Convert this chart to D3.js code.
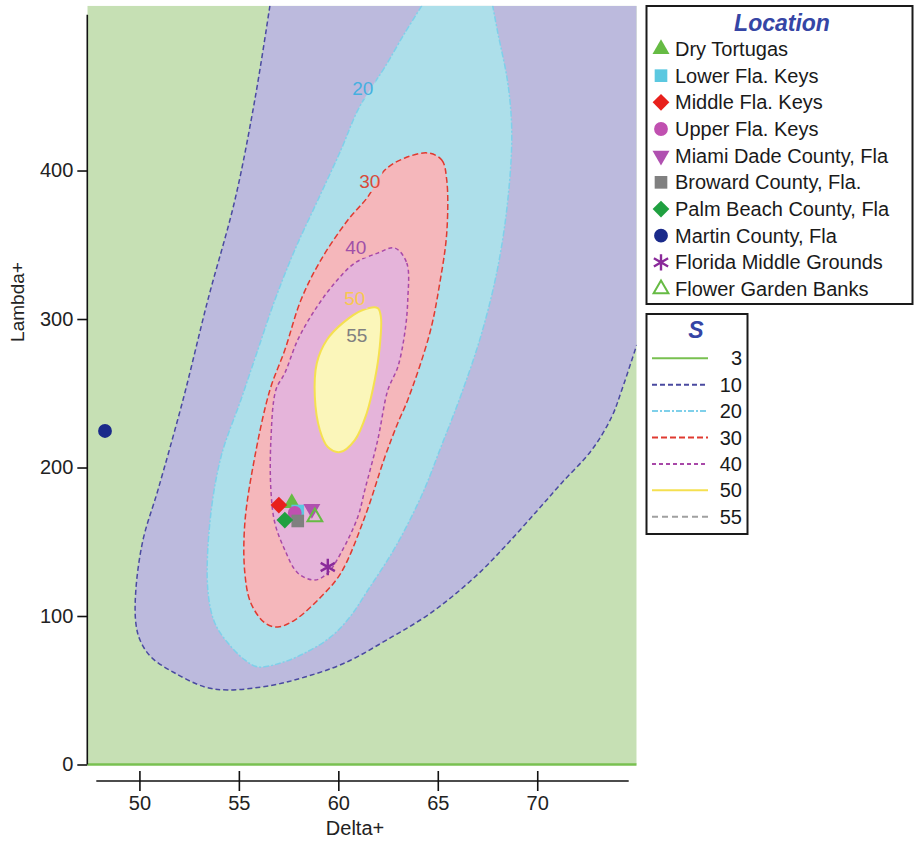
<!DOCTYPE html>
<html>
<head>
<meta charset="utf-8">
<script src="https://cdn.jsdelivr.net/npm/d3@7"></script>
<style>
  body { margin: 0; background: #fff; }
  text { font-family: Arial, "Liberation Sans", sans-serif; }
</style>
</head>
<body>
<svg id="chart" width="914" height="842"></svg>
<script>
// S contours over Delta+ / Lambda+ with the sampled locations
const xTicks = [50, 55, 60, 65, 70];
const yTicks = [0, 100, 200, 300, 400];
const sLevels = ["3", "10", "20", "30", "40", "50", "55"];

// contour lines, [Delta+, Lambda+]
const s3 = [[47.38, 0], [75, 0]];
const s10 = [[56.56, 511], [55.80, 447.5], [54.80, 380.1], [53.44, 312.8], [52.19, 245.5],
  [50.93, 184.8], [50.18, 151.2], [49.82, 117.5], [49.82, 95.3], [50.03, 83.8], [50.58, 72.4],
  [51.78, 61.6], [53.29, 52.2], [54.45, 50.2], [56.6, 53.2], [58.32, 58.9], [60.33, 68.4],
  [62.69, 85.9], [64.35, 99.3], [65.70, 112.8], [67.24, 131.0], [68.54, 149.2], [70.03, 171.4],
  [71.23, 189.6], [72.74, 211.8], [73.74, 234.0], [74.25, 252.2], [75.0, 282.5]];
const s20 = [[64.20, 511], [63.34, 492.6], [62.34, 469.7], [61.68, 456.2], [60.98, 440.7],
  [60.13, 413.8], [58.97, 380.1], [57.81, 346.5], [56.81, 312.8], [55.95, 279.1], [55.10, 245.5],
  [54.10, 207.1], [53.54, 162.6], [53.44, 117.5], [53.79, 95.3], [54.45, 81.8], [55.30, 70.4],
  [55.95, 65.7], [57.11, 68.4], [58.32, 75.1], [59.62, 85.9], [60.58, 99.3], [61.49, 117.5],
  [62.84, 145.8], [64.20, 181.5], [65.20, 215.2], [66.20, 250.0], [67.21, 290.6], [68.02, 335.0],
  [68.52, 380.1], [68.72, 425.3], [68.52, 459.0], [68.02, 492.6], [67.76, 511]];
const s30 = [[64.51, 411.8], [65.20, 407.1], [65.45, 393.6], [65.45, 357.9], [65.10, 324.2],
  [64.60, 290.6], [63.49, 245.5], [62.99, 230.0], [62.34, 207.1], [61.33, 166.7], [60.13, 129.0],
  [59.12, 112.8], [57.81, 97.3], [56.96, 92.6], [56.31, 95.3], [55.60, 108.8], [55.30, 129.0],
  [55.30, 162.6], [55.80, 207.1], [56.56, 252.2], [57.31, 279.1], [58.12, 312.8], [59.12, 339.7],
  [60.48, 366.7], [61.48, 382.2], [62.34, 400.3], [63.34, 408.4]];
const s40 = [[62.84, 347.8], [63.44, 337.7], [63.49, 312.8], [63.34, 290.6], [62.99, 267.7],
  [62.49, 252.2], [61.98, 218.5], [61.33, 184.8], [60.98, 166.7], [60.13, 142.4], [59.47, 129.0],
  [58.82, 124.2], [57.96, 129.0], [57.31, 144.5], [56.81, 162.6], [56.61, 184.8], [56.61, 218.5],
  [56.86, 252.2], [57.31, 263.6], [57.96, 285.9], [58.82, 306.1], [59.82, 324.2], [60.83, 337.7],
  [61.98, 344.4]];
const s50 = [[61.98, 307.4], [62.14, 301.3], [62.08, 281.1], [61.83, 258.9], [61.43, 236.7],
  [60.83, 218.5], [60.08, 210.4], [59.47, 213.8], [59.07, 225.3], [58.82, 247.5], [58.92, 270.4],
  [59.42, 285.9], [60.23, 297.4], [61.23, 306.1]];

// level numbers written on the plot
const labelText = ["20", "30", "40", "50", "55"];
const labelDelta = [61.23, 61.58, 60.88, 60.83, 60.93];
const labelLambda = [455.6, 392.9, 348.5, 314.1, 289.2];

const locations = ["Dry Tortugas", "Lower Fla. Keys", "Middle Fla. Keys", "Upper Fla. Keys",
  "Miami Dade County, Fla", "Broward County, Fla.", "Palm Beach County, Fla", "Martin County, Fla",
  "Florida Middle Grounds", "Flower Garden Banks"];
const delta = [57.66, 57.96, 57.01, 57.81, 58.67, 57.96, 57.31, 48.27, 59.47, 58.82];
const lambda = [176.1, 170.7, 174.7, 169.4, 172.1, 164.0, 164.6, 224.6, 133.0, 166.7];

// styles
const fillColors = ["#c6e0b4", "#bcbadd", "#addfea", "#f5b7bb", "#e5b4da", "#fbf6ba"];
const lineColors = ["#78c050", "#4a4aa0", "#7fd0ea", "#e03a30", "#a848a8", "#f5e050", "#a0a0a0"];
const lineDash = [null, "5,3", "6,2,2,2", "6,3", "4,3", null, "6,4"];
const labelColors = ["#45b0e0", "#d84a3a", "#a050a8", "#f8c850", "#808080"];
const markerColors = ["#66bb44", "#5bc8e0", "#e8201c", "#c050b0", "#b050b0", "#808080",
  "#20a040", "#1a2a8a", "#8a2a9a", "#66bb44"];
const markerShapes = ["tri", "square", "diamond", "circle", "triDown", "square", "diamond",
  "circle", "star", "triOpen"];

const xMax = 75, yMax = 511;
const x = d3.scaleLinear().domain([47.38, xMax]).range([87.3, 636.7]);
const y = d3.scaleLinear().domain([0, yMax]).range([764.5, 5.7]);

const svg = d3.select("#chart");
const defs = svg.append("defs");

defs.append("clipPath").attr("id", "plotClip")
  .append("rect")
  .attr("x", x.range()[0]).attr("y", y.range()[1])
  .attr("width", x.range()[1] - x.range()[0])
  .attr("height", y.range()[0] - y.range()[1] + 2);

const mask = defs.append("mask").attr("id", "labelGaps")
  .attr("maskUnits", "userSpaceOnUse")
  .attr("x", 0).attr("y", 0).attr("width", 914).attr("height", 842);
mask.append("rect").attr("width", 914).attr("height", 842).attr("fill", "#fff");

const plot = svg.append("g").attr("clip-path", "url(#plotClip)");

const lineOpen = d3.line().x(d => x(d[0])).y(d => y(d[1])).curve(d3.curveCatmullRom);
const lineClosed = d3.line().x(d => x(d[0])).y(d => y(d[1])).curve(d3.curveCatmullRomClosed);

// filled bands
plot.append("rect")
  .attr("x", x.range()[0]).attr("y", y.range()[1])
  .attr("width", x.range()[1] - x.range()[0])
  .attr("height", y.range()[0] - y.range()[1])
  .attr("fill", fillColors[0]);
plot.append("path")
  .attr("d", lineOpen(s10) + "L" + x(xMax) + "," + y(yMax) + "Z")
  .attr("fill", fillColors[1]);
plot.append("path").attr("d", lineOpen(s20) + "Z").attr("fill", fillColors[2]);
plot.append("path").attr("d", lineClosed(s30)).attr("fill", fillColors[3]);
plot.append("path").attr("d", lineClosed(s40)).attr("fill", fillColors[4]);
plot.append("path").attr("d", lineClosed(s50)).attr("fill", fillColors[5]);

// contour lines
const lines = plot.append("g").attr("mask", "url(#labelGaps)").attr("fill", "none");
const contourPaths = [
  lineOpen(s3), lineOpen(s10), lineOpen(s20), lineClosed(s30), lineClosed(s40), lineClosed(s50)
];
contourPaths.forEach(function (d, i) {
  lines.append("path")
    .attr("d", d)
    .attr("stroke", lineColors[i])
    .attr("stroke-width", i == 0 ? 2.5 : (i == 5 ? 2 : 1.5))
    .attr("stroke-dasharray", lineDash[i]);
});

// level labels, then cut gaps in the lines under them
const labels = plot.append("g");
labelText.forEach(function (t, i) {
  const txt = labels.append("text")
    .attr("x", x(labelDelta[i]))
    .attr("y", y(labelLambda[i]))
    .attr("dy", "0.35em")
    .attr("text-anchor", "middle")
    .attr("font-size", 19)
    .attr("fill", labelColors[i])
    .text(t);
  const bb = txt.node().getBBox();
  mask.append("rect")
    .attr("x", bb.x - 2).attr("y", bb.y)
    .attr("width", bb.width + 4).attr("height", bb.height)
    .attr("fill", "#000");
});

function drawMarker(g, shape, color, cx, cy) {
  let type = d3.symbolTriangle, size = 125, rot = 0, fill = color, stroke = "none";
  if (shape == "square") { type = d3.symbolSquare; size = 160; }
  if (shape == "diamond") { type = d3.symbolSquare; size = 140; rot = 45; }
  if (shape == "circle") { type = d3.symbolCircle; size = 150; }
  if (shape == "triDown") { rot = 180; }
  if (shape == "triOpen") { fill = "none"; stroke = color; size = 95; }
  if (shape == "star") { type = d3.symbolAsterisk; size = 190; fill = "none"; stroke = color; }
  g.append("path")
    .attr("d", d3.symbol().type(type).size(size)())
    .attr("transform", "translate(" + cx + "," + cy + ") rotate(" + rot + ")")
    .attr("fill", fill)
    .attr("stroke", stroke)
    .attr("stroke-width", shape == "star" ? 2.4 : 2);
}

// sampled locations
const pts = svg.append("g");
locations.forEach(function (name, i) {
  drawMarker(pts, markerShapes[i], markerColors[i], x(delta[i]), y(lambda[i]));
});

// y axis
const yAxis = svg.append("g")
  .attr("transform", "translate(" + x.range()[0] + ",0)")
  .call(d3.axisLeft(y).tickValues(yTicks).tickSize(10).tickPadding(4));
yAxis.select(".domain").remove();
yAxis.append("line")
  .attr("y1", y(0)).attr("y2", y(yMax) + 9)
  .attr("stroke", "#111").attr("stroke-width", 1.6);
yAxis.selectAll(".tick line").attr("stroke", "#111").attr("stroke-width", 1.6);
yAxis.selectAll(".tick text").attr("font-size", 20).attr("fill", "#222")
  .attr("font-family", "Arial, 'Liberation Sans', sans-serif");

// x axis, drawn a little below the plot
const xAxis = svg.append("g")
  .attr("transform", "translate(0,781)")
  .call(d3.axisBottom(x).tickValues(xTicks).tickSize(10).tickPadding(5));
xAxis.select(".domain").remove();
xAxis.append("line")
  .attr("x1", x.range()[0] + 9).attr("x2", x.range()[1] - 8)
  .attr("stroke", "#111").attr("stroke-width", 1.6);
xAxis.selectAll(".tick line").attr("y1", -10).attr("y2", 10)
  .attr("stroke", "#111").attr("stroke-width", 1.6);
xAxis.selectAll(".tick text").attr("font-size", 20).attr("fill", "#222")
  .attr("font-family", "Arial, 'Liberation Sans', sans-serif");

svg.append("text")
  .attr("x", 355).attr("y", 835)
  .attr("text-anchor", "middle")
  .attr("font-size", 20).attr("fill", "#222")
  .text("Delta+");
svg.append("text")
  .attr("transform", "translate(24,302) rotate(-90)")
  .attr("text-anchor", "middle")
  .attr("font-size", 19).attr("fill", "#222")
  .text("Lambda+");

// Location legend
const leg = svg.append("g");
leg.append("rect")
  .attr("x", 646.5).attr("y", 6).attr("width", 266).attr("height", 298)
  .attr("fill", "#fff").attr("stroke", "#1a1a1a").attr("stroke-width", 2);
leg.append("text")
  .attr("x", 782).attr("y", 31)
  .attr("text-anchor", "middle")
  .attr("font-size", 23).attr("font-weight", "bold").attr("font-style", "italic")
  .attr("fill", "#3545a5")
  .text("Location");
locations.forEach(function (name, i) {
  const cy = 49 + i * 26.67;
  drawMarker(leg, markerShapes[i], markerColors[i], 661, cy);
  leg.append("text")
    .attr("x", 675).attr("y", cy + 7)
    .attr("font-size", 20).attr("fill", "#1a1a1a")
    .text(name);
});

// S legend
const sleg = svg.append("g");
sleg.append("rect")
  .attr("x", 646.5).attr("y", 314).attr("width", 101).attr("height", 220)
  .attr("fill", "#fff").attr("stroke", "#1a1a1a").attr("stroke-width", 2);
sleg.append("text")
  .attr("x", 696).attr("y", 338)
  .attr("text-anchor", "middle")
  .attr("font-size", 23).attr("font-weight", "bold").attr("font-style", "italic")
  .attr("fill", "#3545a5")
  .text("S");
sLevels.forEach(function (lv, i) {
  const cy = 358.3 + i * 26.4;
  sleg.append("line")
    .attr("x1", 652).attr("x2", 708).attr("y1", cy).attr("y2", cy)
    .attr("stroke", lineColors[i]).attr("stroke-width", 2)
    .attr("stroke-dasharray", lineDash[i]);
  sleg.append("text")
    .attr("x", 742).attr("y", cy + 7)
    .attr("text-anchor", "end")
    .attr("font-size", 20).attr("fill", "#1a1a1a")
    .text(lv);
});
</script>
</body>
</html>
